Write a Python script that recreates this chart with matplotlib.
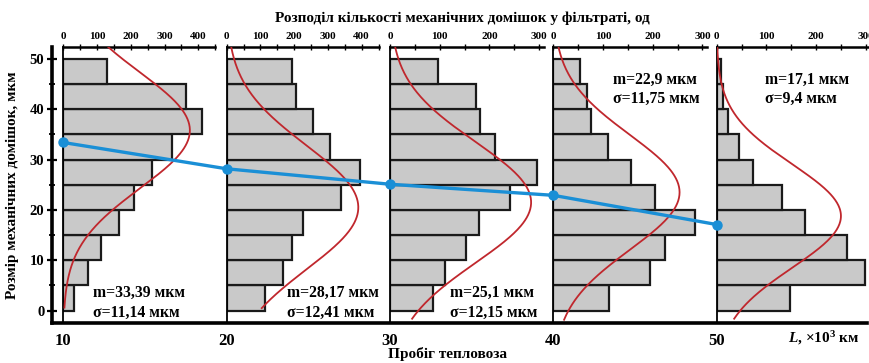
import numpy as np
import matplotlib
matplotlib.use("Agg")
import matplotlib.pyplot as plt
from matplotlib.ticker import MultipleLocator

plt.rcParams['font.family'] = ['Liberation Serif', 'DejaVu Serif']
plt.rcParams['font.weight'] = 'bold'
plt.rcParams['mathtext.fontset'] = 'custom'
plt.rcParams['mathtext.rm'] = 'Liberation Serif:bold'
plt.rcParams['mathtext.it'] = 'Liberation Serif:italic:bold'

# Locomotive mileage, thousand km
mileage = [10, 20, 30, 40, 50]
# Particle size classes, lower edges (µm), width 5 µm
size_lo = [0, 5, 10, 15, 20, 25, 30, 35, 40, 45]
bin_width = 5

# Particle counts per size class (bottom class first)
counts_10 = [32, 72, 112, 166, 209, 262, 321, 410, 363, 131]
counts_20 = [115, 166, 194, 225, 340, 394, 306, 256, 205, 194]
counts_30 = [86, 110, 152, 180, 241, 296, 212, 182, 173, 96]
counts_40 = [111, 195, 224, 285, 205, 156, 110, 75, 67, 53]
counts_50 = [148, 298, 263, 178, 131, 74, 45, 22, 12, 8]
all_counts = [counts_10, counts_20, counts_30, counts_40, counts_50]

# Distribution statistics
mean_size = [33.39, 28.17, 25.1, 22.9, 17.1]
std_size = [11.14, 12.41, 12.15, 11.75, 9.4]
mean_labels = ["33,39", "28,17", "25,1", "22,9", "17,1"]
std_labels = ["11,14", "12,41", "12,15", "11,75", "9,4"]

# Fitted density curves: centre, spread, peak count, lowest size drawn
curve_centre = [35.8, 20.5, 21.5, 23.5, 18.8]
curve_spread = [11.5, 12.3, 12.0, 11.4, 10.3]
curve_peak = [375, 390, 284, 254, 250]
curve_low = [0.6, 0.5, -1.6, -1.8, -1.6]

# Count axis range of each panel
count_max = [450, 450, 310, 310, 310]
count_major = [100, 100, 100, 100, 100]
count_minor = [50, 50, 50, 50, 50]
panel_width = [9.30, 9.30, 9.43, 9.43, 9.43]

W, H = 870, 363
fig = plt.figure(figsize=(W / 100, H / 100), dpi=100)
ax = fig.add_axes([52 / W, 40 / H, (867 - 52) / W, (323 - 46.5) / H])
ax.set_xlim(9.31, 59.2)
ax.set_ylim(-2.45, 52.45)
ylo, yhi = ax.get_ylim()

for s in ['top', 'right']:
    ax.spines[s].set_visible(False)
ax.spines['left'].set_linewidth(2.6)
ax.spines['bottom'].set_linewidth(2.6)

ax.set_xticks(mileage)
ax.tick_params(axis='x', length=0, pad=7, labelsize=12)
ax.yaxis.set_major_locator(MultipleLocator(10))
ax.yaxis.set_minor_locator(MultipleLocator(5))
ax.tick_params(axis='y', which='major', direction='inout', length=7, width=1.6,
               labelsize=10.5, pad=2)
ax.tick_params(axis='y', which='minor', direction='inout', length=5, width=1.3)
for lab in ax.get_xticklabels() + ax.get_yticklabels():
    lab.set_fontweight('bold')

red = '#c0272d'
blue = '#1a8fd6'

for i, L0 in enumerate(mileage):
    ins = ax.inset_axes([L0, ylo, panel_width[i], yhi - ylo], transform=ax.transData)
    ins.set_xlim(0, count_max[i])
    ins.set_ylim(ylo, yhi)
    ins.patch.set_visible(False)
    for s in ['bottom', 'right']:
        ins.spines[s].set_visible(False)
    ins.spines['top'].set_linewidth(1.8)
    ins.spines['left'].set_linewidth(1.3)
    ins.set_yticks([])
    ins.xaxis.tick_top()
    ins.set_xticks(np.arange(0, count_max[i] + 1, count_major[i]))
    ins.xaxis.set_minor_locator(MultipleLocator(count_minor[i]))
    ins.tick_params(axis='x', which='both', direction='inout', length=4, width=1.0,
                    labelsize=8, pad=2, top=True, bottom=False)
    for lab in ins.get_xticklabels():
        lab.set_fontweight('bold')

    ins.barh(size_lo, all_counts[i], height=bin_width, align='edge', left=0,
             color='#c9c9c9', edgecolor='#1a1a1a', linewidth=1.6, zorder=2)

    ys = np.linspace(curve_low[i], yhi + 1, 300)
    xs = curve_peak[i] * np.exp(-0.5 * ((ys - curve_centre[i]) / curve_spread[i]) ** 2)
    ins.plot(xs, ys, color=red, lw=1.3, zorder=3)

ax.plot(mileage, mean_size, color=blue, lw=2.4, marker='o', markersize=6.5,
        zorder=10, clip_on=False)

# Statistics annotations
text_pos = [(11.82, 3.5, -0.5), (23.7, 3.5, -0.5), (33.67, 3.5, -0.5),
            (43.63, 45.9, 42.0), (52.96, 45.9, 42.0)]
for i, (tx, ty1, ty2) in enumerate(text_pos):
    ax.text(tx, ty1, f"m={mean_labels[i]} мкм", fontsize=11.3, fontweight='bold',
            va='center', ha='left', zorder=11)
    ax.text(tx, ty2, f"σ={std_labels[i]} мкм", fontsize=11.3, fontweight='bold',
            va='center', ha='left', zorder=11)

fig.text(462 / W, 1 - 18 / H, "Розподіл кількості механічних домішок у фільтраті, од",
         ha='center', va='center', fontsize=11, fontweight='bold')
fig.text(448 / W, 1 - 354 / H, "Пробіг тепловоза", ha='center', va='center',
         fontsize=11, fontweight='bold')
fig.text(824 / W, 1 - 338 / H, r"$L$, ×10$^{3}$ км", ha='center', va='center',
         fontsize=11, fontweight='bold')
fig.text(12 / W, 1 - 185 / H, "Розмір механічних домішок, мкм", ha='center',
         va='center', rotation=90, fontsize=11, fontweight='bold')

fig.savefig("out.png", dpi=100)
